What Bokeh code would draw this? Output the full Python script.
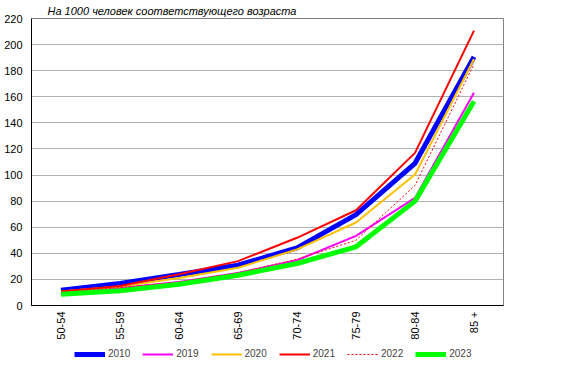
from bokeh.plotting import figure
from bokeh.models import Legend, LegendItem, FixedTicker, Title, Range1d
from bokeh.layouts import column
from bokeh.embed import file_html
from bokeh.resources import INLINE
import math

categories = ["50-54", "55-59", "60-64", "65-69", "70-74", "75-79", "80-84", "85 +"]
years = ["2010", "2019", "2020", "2021", "2022", "2023"]
v2010 = [11.7, 16.9, 23.8, 30.9, 44.2, 69.7, 109.0, 190.6]
v2019 = [10.0, 13.5, 18.0, 25.0, 34.7, 53.4, 82.5, 163.0]
v2020 = [10.8, 14.5, 21.0, 28.9, 43.0, 63.6, 100.4, 189.0]
v2021 = [10.7, 15.0, 24.0, 34.0, 51.9, 73.0, 117.0, 210.7]
v2022 = [10.0, 13.8, 18.0, 25.0, 35.5, 50.0, 92.0, 185.0]
v2023 = [8.7, 11.3, 16.3, 23.2, 32.2, 45.0, 80.0, 156.5]
y_ticks = list(range(0, 221, 20))

FONT = "Liberation Sans"

p = figure(x_range=categories, output_backend="svg", toolbar_location=None,
           frame_width=472, frame_height=287, min_border_left=31,
           min_border_right=57, min_border_top=0, min_border_bottom=40)
p.y_range = Range1d(0, 220)
p.background_fill_color = "white"
p.border_fill_color = "white"
p.outline_line_color = "#808080"
p.outline_line_width = 1
p.outline_line_alpha = 1.0

t = Title(text="На 1000 человек соответствующего возраста", text_font=FONT,
          text_font_size="11px", text_font_style="italic", text_color="#000000",
          offset=16, standoff=4)
p.add_layout(t, "above")

series = [
    (v2010, "#0000FF", 5, "solid"),
    (v2019, "#FF00FF", 2, "solid"),
    (v2020, "#FFC000", 2, "solid"),
    (v2021, "#FF0000", 2, "solid"),
    (v2022, "#FF0000", 1, "2 2"),
    (v2023, "#00FF00", 5, "solid"),
]
for vals, col, w, dash in series:
    p.line(categories, vals, line_color=col, line_width=w, line_dash=dash)

p.xgrid.grid_line_color = None
p.ygrid.grid_line_color = "#B0B0B0"
p.ygrid.grid_line_width = 1
p.yaxis.ticker = FixedTicker(ticks=y_ticks)

for ax in (p.xaxis, p.yaxis):
    ax.axis_line_color = "black"
    ax.axis_line_width = 1
    ax.major_tick_line_color = None
    ax.minor_tick_line_color = None
    ax.major_tick_out = 0
    ax.major_tick_in = 0
    ax.minor_tick_out = 0
    ax.axis_label_standoff = 0
    ax.major_label_text_font = FONT
    ax.major_label_text_color = "black"
    ax.major_label_text_font_size = "11px"
p.yaxis.major_label_standoff = 9
p.xaxis.major_label_standoff = 6
p.xaxis.major_label_orientation = math.pi / 2

# legend strip below the chart, same horizontal geometry as the chart
lg = figure(frame_width=472, frame_height=16, output_backend="svg",
            toolbar_location=None, x_range=categories, y_range=Range1d(-200, -100),
            min_border_left=31, min_border_right=57, min_border_top=0,
            min_border_bottom=0, x_axis_type=None, y_axis_type=None)
lg.outline_line_color = None
lg.xgrid.grid_line_color = None
lg.ygrid.grid_line_color = None
lg.background_fill_color = "white"
lg.border_fill_color = "white"
items = []
for name, (vals, col, w, dash) in zip(years, series):
    r = lg.line(categories, vals, line_color=col, line_width=w, line_dash=dash)
    items.append(LegendItem(label=name, renderers=[r]))
legend = Legend(items=items, orientation="horizontal", location=(43, 2),
                label_text_font=FONT, label_text_font_size="10px",
                glyph_width=31, glyph_height=10, spacing=12, label_standoff=3,
                border_line_color=None, background_fill_alpha=0,
                padding=0, margin=0, label_height=10)
lg.add_layout(legend, "center")

layout = column(p, lg, spacing=0)
open("out.html", "w").write(file_html(layout, INLINE))
